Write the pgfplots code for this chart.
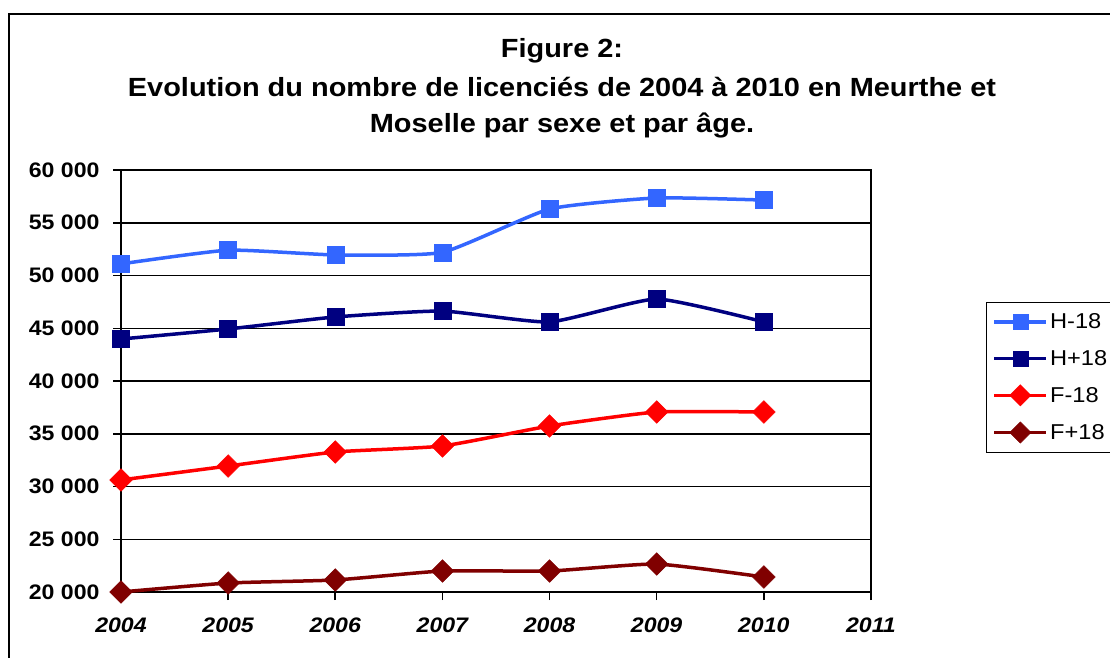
\documentclass[border=0pt]{standalone}
\usepackage{fontspec}
\setmainfont{Liberation Sans}[FakeStretch=1.1]
\usepackage{pgfplots}
\pgfplotsset{compat=1.18}
\definecolor{hm}{HTML}{3366FF}
\definecolor{hp}{HTML}{000080}
\definecolor{fm}{HTML}{FF0000}
\definecolor{fp}{HTML}{800000}
\begin{document}
\begin{tikzpicture}
\clip (0pt,0pt) rectangle (1110pt,657pt);
\fill[white] (0pt,0pt) rectangle (1110pt,657pt);
\draw[line width=2pt] (8.5pt,-20pt) rectangle (1130pt,643pt);
\node[font=\fontsize{26.3}{30}\selectfont\bfseries, anchor=base, inner sep=0pt] at (562pt,599pt) {Figure 2:};
\node[font=\fontsize{26.3}{30}\selectfont\bfseries, anchor=base, inner sep=0pt] at (562pt,560pt) {Evolution du nombre de licenciés de 2004 à 2010 en Meurthe et};
\node[font=\fontsize{26.3}{30}\selectfont\bfseries, anchor=base, inner sep=0pt] at (562pt,524pt) {Moselle par sexe et par âge.};
\begin{axis}[
  at={(121pt,65pt)}, anchor=south west,
  scale only axis, width=750pt, height=422pt,
  xmin=2004, xmax=2011, ymin=20000, ymax=60000,
  scaled y ticks=false, scaled x ticks=false,
  xtick={2004,...,2011},
  xticklabels={2004,2005,2006,2007,2008,2009,2010,2011},
  ytick={20000,25000,...,60000},
  yticklabels={20 000,25 000,30 000,35 000,40 000,45 000,50 000,55 000,60 000},
  xtick pos=lower, ytick pos=left,
  tick align=outside,
  major tick length=8pt,
  tick style={black, line width=1.5pt},
  axis line style={line width=2pt},
  ymajorgrids, grid style={black, line width=1.5pt},
  xticklabel style={font=\fontsize{21}{25}\selectfont\bfseries\itshape, yshift=-14pt},
  yticklabel style={font=\fontsize{21}{25}\selectfont\bfseries, xshift=-10pt},
  legend image code/.code={\draw[mark repeat=2, mark phase=2, mark size=7.5pt] plot coordinates {(0pt,0pt) (26pt,0pt) (52pt,0pt)};},
  legend style={at={(1.1533,0.687)}, anchor=north west, draw=black, line width=1.2pt,
    font=\fontsize{21.5}{25}\selectfont, row sep=16pt, inner xsep=6pt, inner ysep=9pt},
  legend cell align=left,
  every axis plot/.append style={line width=3.5pt, smooth, tension=0.3},
]
\addplot[color=hm, mark=square*, mark size=8.5pt, mark options={line width=0.5pt}] coordinates {
(2004,51100) (2005,52400) (2006,51950) (2007,52200) (2008,56300) (2009,57350) (2010,57150)};
\addlegendentry{\makebox[70pt][l]{H-18}}
\addplot[color=hp, mark=square*, mark size=8.5pt, mark options={line width=0.5pt}] coordinates {
(2004,43980) (2005,44930) (2006,46070) (2007,46630) (2008,45600) (2009,47770) (2010,45600)};
\addlegendentry{\makebox[70pt][l]{H+18}}
\addplot[color=fm, mark=square*, mark size=8pt, mark options={rotate=45, line width=0.5pt}] coordinates {
(2004,30620) (2005,31940) (2006,33270) (2007,33840) (2008,35735) (2009,37060) (2010,37060)};
\addlegendentry{\makebox[70pt][l]{F-18}}
\addplot[color=fp, mark=square*, mark size=8pt, mark options={rotate=45, line width=0.5pt}] coordinates {
(2004,20000) (2005,20850) (2006,21140) (2007,21990) (2008,21990) (2009,22650) (2010,21420)};
\addlegendentry{\makebox[70pt][l]{F+18}}
\end{axis}
\end{tikzpicture}
\end{document}
